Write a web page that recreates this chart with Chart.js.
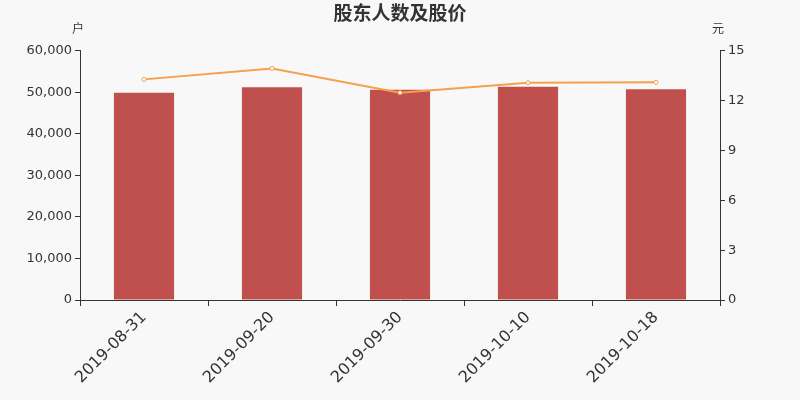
<!DOCTYPE html>
<html>
<head>
<meta charset="utf-8">
<script src="https://cdn.jsdelivr.net/npm/chart.js@4/dist/chart.umd.min.js"></script>
<style>
  html, body { margin: 0; padding: 0; background: #f8f8f8; }
  #wrap { width: 800px; height: 400px; }
</style>
</head>
<body>
<div id="wrap"><canvas id="chart"></canvas></div>
<script>
// 数据
const dates = ['2019-08-31', '2019-09-20', '2019-09-30', '2019-10-10', '2019-10-18'];
const holders = [49900, 51200, 50600, 51350, 50750];   // 股东户数
const prices = [13.28, 13.94, 12.48, 13.08, 13.10];    // 股价 (元)
const leftTicks = [0, 10000, 20000, 30000, 40000, 50000, 60000];
const rightTicks = [0, 3, 6, 9, 12, 15];

const FONT = "'DejaVu Sans', sans-serif";
const TXT = '#333';

// 轴单位标签 "户" / "元"
const unitLabels = {
    id: 'unitLabels',
    afterDraw(chart) {
        const { ctx, chartArea } = chart;
        ctx.save();
        ctx.fillStyle = TXT;
        ctx.font = "12px 'Noto Sans CJK SC', sans-serif";
        ctx.textAlign = 'center';
        ctx.textBaseline = 'middle';
        ctx.fillText('户', chartArea.left - 2, chartArea.top - 22);
        ctx.fillText('元', chartArea.right - 2, chartArea.top - 22);
        ctx.restore();
    }
};

new Chart(document.getElementById('chart'), {
    data: {
        labels: dates,
        datasets: [
            {
                type: 'line',
                label: '股价',
                data: prices,
                yAxisID: 'y1',
                borderColor: '#f4a04c',
                backgroundColor: '#ffffff',
                borderWidth: 2,
                pointRadius: 2,
                pointBorderWidth: 1,
                pointBackgroundColor: '#ffffff',
                pointBorderColor: '#f4a04c',
                tension: 0,
                order: 0
            },
            {
                type: 'bar',
                label: '股东人数',
                data: holders,
                yAxisID: 'y',
                backgroundColor: '#c0504d',
                barPercentage: 0.47,
                categoryPercentage: 1,
                order: 1
            }
        ]
    },
    options: {
        responsive: true,
        maintainAspectRatio: false,
        animation: false,
        layout: { padding: { top: 0, left: 0, right: 0, bottom: 0 } },
        plugins: {
            legend: { display: false },
            tooltip: { enabled: false },
            title: {
                display: true,
                text: '股东人数及股价',
                color: TXT,
                font: { family: "'Noto Sans CJK SC', sans-serif", size: 19, weight: 'bold' },
                padding: { top: 1, bottom: 27 }
            }
        },
        scales: {
            x: {
                offset: true,
                grid: { display: true, drawOnChartArea: false, offset: true, tickLength: 6, color: TXT },
                border: { color: TXT, width: 1 },
                ticks: {
                    color: TXT,
                    font: { family: FONT, size: 16 },
                    maxRotation: 45,
                    minRotation: 45,
                    padding: 2
                },
                afterFit(scale) { scale.height = 100; }
            },
            y: {
                position: 'left',
                min: 0,
                max: 60000,
                afterBuildTicks(scale) { scale.ticks = leftTicks.map(v => ({ value: v })); },
                grid: { display: true, drawOnChartArea: false, tickLength: 5, color: TXT },
                border: { color: TXT, width: 1 },
                ticks: {
                    color: TXT,
                    font: { family: FONT, size: 13 },
                    padding: 3,
                    callback: v => v.toLocaleString('en-US')
                },
                afterFit(scale) { scale.width = 80; }
            },
            y1: {
                position: 'right',
                min: 0,
                max: 15,
                afterBuildTicks(scale) { scale.ticks = rightTicks.map(v => ({ value: v })); },
                grid: { display: true, drawOnChartArea: false, tickLength: 5, color: TXT },
                border: { color: TXT, width: 1 },
                ticks: {
                    color: TXT,
                    font: { family: FONT, size: 13 },
                    padding: 3
                },
                afterFit(scale) { scale.width = 80; }
            }
        }
    },
    plugins: [unitLabels]
});
</script>
</body>
</html>
